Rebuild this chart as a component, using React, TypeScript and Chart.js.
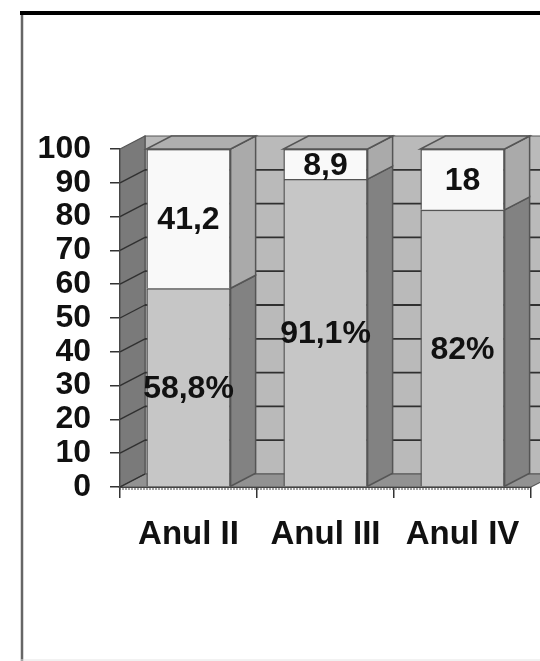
import { useEffect, useRef } from "react";
import { Chart, registerables } from "chart.js";

Chart.register(...registerables);

const categories = ["Anul II", "Anul III", "Anul IV"];
const lowerValues = [58.8, 91.1, 82];
const upperValues = [41.2, 8.9, 18];
const lowerLabels = ["58,8%", "91,1%", "82%"];
const upperLabels = ["41,2", "8,9", "18"];
const gridValues = [0, 10, 20, 30, 40, 50, 60, 70, 80, 90, 100];

const DX = 25;
const DY = 13;
const EDGE = "#555555";
const FONT = '"Liberation Sans", Arial, sans-serif';

function poly(ctx: CanvasRenderingContext2D, pts: number[][], fill: string, stroke = EDGE, lw = 1.2) {
  ctx.beginPath();
  pts.forEach(([x, y], i) => (i ? ctx.lineTo(x, y) : ctx.moveTo(x, y)));
  ctx.closePath();
  ctx.fillStyle = fill;
  ctx.fill();
  ctx.lineWidth = lw;
  ctx.strokeStyle = stroke;
  ctx.stroke();
}

function seg(ctx: CanvasRenderingContext2D, x1: number, y1: number, x2: number, y2: number, color: string, lw: number) {
  ctx.beginPath();
  ctx.moveTo(x1, y1);
  ctx.lineTo(x2, y2);
  ctx.strokeStyle = color;
  ctx.lineWidth = lw;
  ctx.stroke();
}

const frame = {
  id: "frame",
  beforeDraw(chart: any) {
    const { ctx, width, height } = chart;
    ctx.save();
    ctx.fillStyle = "#ffffff";
    ctx.fillRect(0, 0, width, height);
    seg(ctx, 22, 12, 22, height, "#666666", 2.5);
    seg(ctx, 20, 13, width, 13, "#000000", 4);
    seg(ctx, 20, height - 1, width, height - 1, "#e4e4e4", 1);
    ctx.restore();
  },
};

const walls = {
  id: "walls",
  beforeDatasetsDraw(chart: any) {
    const { ctx, chartArea, scales } = chart;
    const { left, right, bottom, top } = chartArea;
    ctx.save();
    poly(ctx, [[left + DX, top - DY], [right + DX + 20, top - DY], [right + DX + 20, bottom - DY], [left + DX, bottom - DY]], "#bababa");
    poly(ctx, [[left, top], [left + DX, top - DY], [left + DX, bottom - DY], [left, bottom]], "#7a7a7a");
    poly(ctx, [[left, bottom], [right, bottom], [right + DX, bottom - DY], [left + DX, bottom - DY]], "#929292");
    gridValues.forEach((v) => {
      const y = scales.y.getPixelForValue(v);
      if (v > 0 && v < 100) seg(ctx, left + DX, y - DY, right + DX + 20, y - DY, "#303030", 1.8);
      if (v < 100) seg(ctx, left, y, left + DX, y - DY, "#303030", 1.4);
    });
    const lower = chart.getDatasetMeta(0).data;
    const upper = chart.getDatasetMeta(1).data;
    lower.forEach((b: any, i: number) => {
      const u = upper[i];
      const l = b.x - b.width / 2;
      const r = b.x + b.width / 2;
      poly(ctx, [[r, b.base], [r + DX, b.base - DY], [r + DX, b.y - DY], [r, b.y]], "#828282", EDGE, 1.5);
      poly(ctx, [[r, b.y], [r + DX, b.y - DY], [r + DX, u.y - DY], [r, u.y]], "#aaaaaa", EDGE, 1.5);
      poly(ctx, [[l, u.y], [r, u.y], [r + DX, u.y - DY], [l + DX, u.y - DY]], "#afafaf", EDGE, 1.5);
    });
    ctx.restore();
  },
  afterDatasetsDraw(chart: any) {
    const { ctx, chartArea } = chart;
    ctx.save();
    ctx.beginPath();
    for (let x = chartArea.left; x < chartArea.right; x += 3) {
      ctx.moveTo(x, chartArea.bottom);
      ctx.lineTo(x, chartArea.bottom + 3);
    }
    ctx.strokeStyle = "#444444";
    ctx.lineWidth = 1;
    ctx.stroke();
    ctx.fillStyle = "#111111";
    ctx.font = `bold 32px ${FONT}`;
    ctx.textAlign = "center";
    ctx.textBaseline = "middle";
    [lowerLabels, upperLabels].forEach((labels, d) => {
      chart.getDatasetMeta(d).data.forEach((b: any, i: number) => {
        ctx.fillText(labels[i], b.x, (b.y + b.base) / 2 + 2);
      });
    });
    ctx.restore();
  },
};

export default function App() {
  const ref = useRef<HTMLCanvasElement>(null);
  useEffect(() => {
    const chart = new Chart(ref.current!, {
      type: "bar",
      data: {
        labels: categories,
        datasets: [
          { label: "a", data: lowerValues, backgroundColor: "#c6c6c6", borderColor: EDGE, borderWidth: 1.5 },
          { label: "b", data: upperValues, backgroundColor: "#f9f9f9", borderColor: EDGE, borderWidth: 1.5 },
        ],
      },
      options: {
        animation: false,
        responsive: false,
        devicePixelRatio: 1,
        layout: { padding: { top: 149, right: 9, left: 0, bottom: 0 } },
        datasets: { bar: { categoryPercentage: 0.615, barPercentage: 1 } },
        plugins: { legend: { display: false }, title: { display: false }, tooltip: { enabled: false } },
        scales: {
          x: {
            stacked: true,
            afterFit: (s: any) => { s.height = 174; },
            grid: { drawOnChartArea: false, drawTicks: true, tickLength: 11, color: "#333333", lineWidth: 1.5 },
            border: { display: true, color: "#333333", width: 2 },
            ticks: { color: "#111111", padding: 17, maxRotation: 0, autoSkip: false, font: { family: FONT, size: 33, weight: "bold" } },
          },
          y: {
            stacked: true,
            min: 0,
            max: 100,
            afterFit: (s: any) => { s.width = 120; },
            grid: { drawOnChartArea: false, drawTicks: true, tickLength: 10, color: "#333333", lineWidth: 1.5 },
            border: { display: true, color: "#333333", width: 1.5 },
            ticks: { stepSize: 10, autoSkip: false, color: "#111111", padding: 19, font: { family: FONT, size: 32, weight: "bold" } },
          },
        },
      },
      plugins: [frame, walls],
    } as any);
    return () => chart.destroy();
  }, []);
  return (
    <canvas
      ref={ref}
      width={540}
      height={661}
      style={{ position: "absolute", left: 0, top: 0, width: 540, height: 661, filter: "blur(0.5px)" }}
    />
  );
}
